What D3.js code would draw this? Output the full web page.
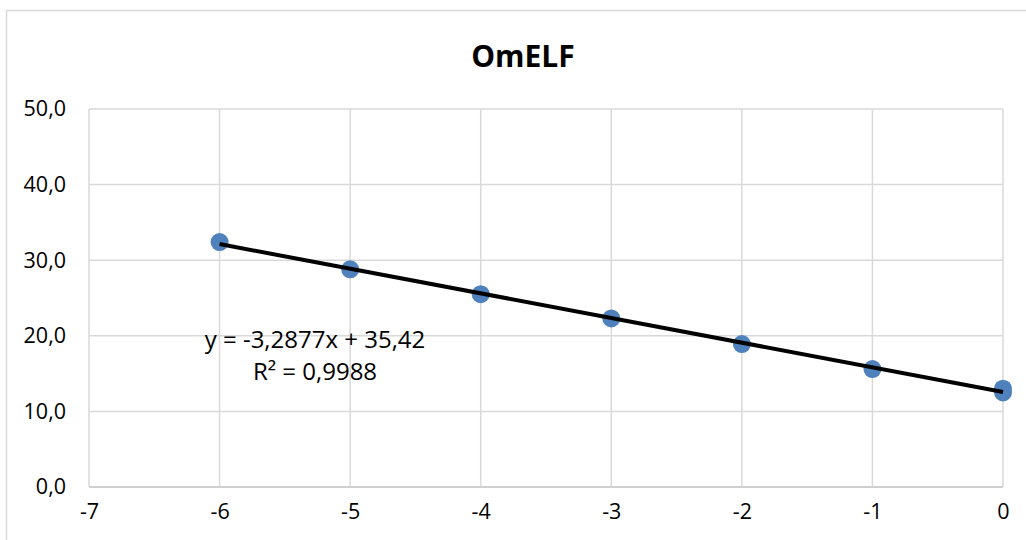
<!DOCTYPE html>
<html lang="en">
<head>
    <meta charset="UTF-8">
    <title>OmELF</title>
    <style>
        html, body { margin: 0; padding: 0; background: #fff; }
        text { font-family: "Open Sans", "Noto Sans", sans-serif; fill: #000; }
    </style>
</head>
<body>
    <div id="chart"></div>

    <script src="https://d3js.org/d3.v7.min.js"></script>
    <script type="text/javascript">
// data
const xValues = [-6, -5, -4, -3, -2, -1, 0, 0];
const yValues = [32.4, 28.8, 25.5, 22.3, 18.9, 15.6, 13.0, 12.5];
const xTicks = [-7, -6, -5, -4, -3, -2, -1, 0];
const yTicks = [0, 10, 20, 30, 40, 50];
const titleText = "OmELF";
const equationLines = ["y = -3,2877x + 35,42", "R² = 0,9988"];

const W = 1026, H = 540;
const margin = { top: 109, right: 23, bottom: 53, left: 89 };
const width = W - margin.left - margin.right;
const height = H - margin.top - margin.bottom;

const root = d3.select("#chart")
    .append("svg")
    .attr("width", W)
    .attr("height", H);

// chart border (runs off the page right and bottom)
root.append("rect")
    .attr("x", 6.5).attr("y", 10.5)
    .attr("width", W + 20).attr("height", H + 20)
    .attr("fill", "#fff")
    .attr("stroke", "#d9d9d9")
    .attr("stroke-width", 1.5);

root.append("text")
    .attr("x", 523)
    .attr("y", 67)
    .attr("text-anchor", "middle")
    .style("font-size", "30px")
    .style("font-weight", "bold")
    .text(titleText);

const svg = root.append("g")
    .attr("transform", `translate(${margin.left},${margin.top})`);

const xScale = d3.scaleLinear().domain([-7, 0]).range([0, width]);
const yScale = d3.scaleLinear().domain([0, 50]).range([height, 0]);

// gridlines
svg.append("g")
    .selectAll("line.h")
    .data(yTicks)
    .enter().append("line")
    .attr("x1", 0).attr("x2", width)
    .attr("y1", d => yScale(d)).attr("y2", d => yScale(d))
    .attr("stroke", d => d === 0 ? "#bfbfbf" : "#d9d9d9")
    .attr("stroke-width", 1.5);

svg.append("g")
    .selectAll("line.v")
    .data(xTicks)
    .enter().append("line")
    .attr("x1", d => xScale(d)).attr("x2", d => xScale(d))
    .attr("y1", 0).attr("y2", height)
    .attr("stroke", "#d9d9d9")
    .attr("stroke-width", 1.5);

// axes (labels only)
const yAxis = svg.append("g")
    .call(d3.axisLeft(yScale).tickValues(yTicks).tickSize(0).tickPadding(23)
        .tickFormat(d => d3.format(".1f")(d).replace(".", ",")));
const xAxis = svg.append("g")
    .attr("transform", `translate(0, ${height})`)
    .call(d3.axisBottom(xScale).tickValues(xTicks).tickSize(0).tickPadding(17)
        .tickFormat(d => d < 0 ? "-" + Math.abs(d) : d));
[yAxis, xAxis].forEach(a => {
    a.select(".domain").remove();
    a.selectAll("text").style("font-size", "21.5px").attr("fill", "#000")
        .style("font-family", "'Open Sans', sans-serif");
});

// points
const data = xValues.map((x, i) => ({ x: x, y: yValues[i] }));

svg.selectAll(".point")
    .data(data)
    .enter().append("circle")
    .attr("class", "point")
    .attr("cx", d => xScale(d.x))
    .attr("cy", d => yScale(d.y))
    .attr("r", 9)
    .attr("fill", "#4f81bd");

// linear trendline (least squares)
const mx = d3.mean(xValues), my = d3.mean(yValues);
const sxy = d3.sum(data, d => (d.x - mx) * (d.y - my));
const sxx = d3.sum(data, d => (d.x - mx) * (d.x - mx));
const slope = sxy / sxx;
const intercept = my - slope * mx;
const xExt = d3.extent(xValues);

svg.append("line")
    .attr("x1", xScale(xExt[0])).attr("y1", yScale(intercept + slope * xExt[0]))
    .attr("x2", xScale(xExt[1])).attr("y2", yScale(intercept + slope * xExt[1]))
    .attr("stroke", "#000")
    .attr("stroke-width", 4);

// equation label
root.append("text")
    .attr("text-anchor", "middle")
    .style("font-size", "24px")
    .selectAll("tspan")
    .data(equationLines)
    .enter().append("tspan")
    .attr("x", 315)
    .attr("y", (d, i) => 348 + i * 32)
    .text(d => d);
</script>
</body>
</html>
